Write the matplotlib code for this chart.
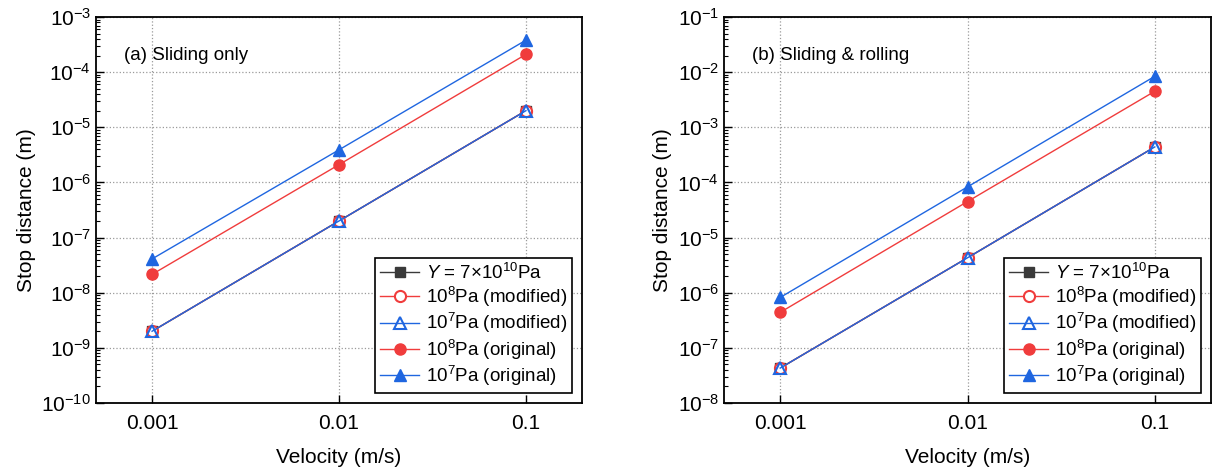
import matplotlib.pyplot as plt
import matplotlib.ticker as mticker
import numpy as np

plt.rcParams['font.family'] = ['Liberation Sans', 'DejaVu Sans']
plt.rcParams['mathtext.fontset'] = 'custom'
plt.rcParams['mathtext.rm'] = 'Liberation Sans'
plt.rcParams['mathtext.it'] = 'Liberation Sans:italic'

velocity = [0.001, 0.01, 0.1]

# (a) sliding only
slide_y7e10 = [2.0e-9, 2.0e-7, 2.0e-5]
slide_1e8_mod = [2.0e-9, 2.0e-7, 2.0e-5]
slide_1e7_mod = [2.0e-9, 2.0e-7, 2.0e-5]
slide_1e8_orig = [2.15e-8, 2.1e-6, 2.1e-4]
slide_1e7_orig = [4.1e-8, 3.9e-6, 3.8e-4]

# (b) sliding & rolling
roll_y7e10 = [4.3e-8, 4.3e-6, 4.4e-4]
roll_1e8_mod = [4.3e-8, 4.3e-6, 4.4e-4]
roll_1e7_mod = [4.3e-8, 4.3e-6, 4.4e-4]
roll_1e8_orig = [4.4e-7, 4.5e-5, 4.5e-3]
roll_1e7_orig = [8.2e-7, 8.3e-5, 8.4e-3]

red = '#f03c3c'
blue = '#1f66e0'
grey = '#3a3a3a'

labels = [r'$Y$ = 7$\times$10$^{10}$Pa', r'10$^8$Pa (modified)', r'10$^7$Pa (modified)',
          r'10$^8$Pa (original)', r'10$^7$Pa (original)']


def panel(ax, series, ylim, note):
    ax.plot(velocity, series[0], color=grey, marker='s', ms=7, lw=1, label=labels[0])
    ax.plot(velocity, series[1], color=red, marker='o', ms=8, mfc='white', mew=1.5, lw=1, label=labels[1])
    ax.plot(velocity, series[2], color=blue, marker='^', ms=9, mfc='none', mew=1.5, lw=1, label=labels[2])
    ax.plot(velocity, series[3], color=red, marker='o', ms=8, lw=1, label=labels[3])
    ax.plot(velocity, series[4], color=blue, marker='^', ms=9, lw=1, label=labels[4])
    ax.set_xscale('log')
    ax.set_yscale('log')
    ax.set_xlim(10 ** -3.3, 10 ** -0.7)
    ax.set_ylim(*ylim)
    ax.set_xticks(velocity)
    ax.xaxis.set_major_formatter(mticker.FixedFormatter(['0.001', '0.01', '0.1']))
    ax.xaxis.set_minor_locator(mticker.NullLocator())
    ax.yaxis.set_major_locator(mticker.LogLocator(base=10, numticks=20))
    ax.yaxis.set_minor_locator(mticker.LogLocator(base=10, subs=np.arange(2, 10), numticks=20))
    ax.yaxis.set_minor_formatter(mticker.NullFormatter())
    ax.tick_params(which='both', direction='in', labelsize=15)
    ax.tick_params(axis='x', pad=8)
    ax.tick_params(which='major', length=6, width=1)
    ax.tick_params(which='minor', length=3, width=0.8)
    ax.grid(True, which='major', linestyle=':', color='#9a9a9a', lw=0.9)
    for s in ax.spines.values():
        s.set_linewidth(1.3)
    ax.set_xlabel('Velocity (m/s)', fontsize=15, labelpad=11)
    ax.set_ylabel('Stop distance (m)', fontsize=15, labelpad=4)
    ax.text(0.057, 0.9, note, transform=ax.transAxes, fontsize=13.5, va='center')
    leg = ax.legend(loc='lower right', fontsize=13.5, fancybox=False, edgecolor='black',
                    framealpha=1, handlelength=2.1, borderaxespad=0.55, labelspacing=0.12,
                    borderpad=0.25, handletextpad=0.35)
    leg.get_frame().set_linewidth(1.2)


fig = plt.figure(figsize=(12.16, 4.72), dpi=100)
ax1 = fig.add_axes([96 / 1216, 1 - 403 / 472, 486 / 1216, 386 / 472])
ax2 = fig.add_axes([724 / 1216, 1 - 403 / 472, 487 / 1216, 386 / 472])

panel(ax1, [slide_y7e10, slide_1e8_mod, slide_1e7_mod, slide_1e8_orig, slide_1e7_orig],
      (1e-10, 1e-3), '(a) Sliding only')
panel(ax2, [roll_y7e10, roll_1e8_mod, roll_1e7_mod, roll_1e8_orig, roll_1e7_orig],
      (1e-8, 1e-1), '(b) Sliding & rolling')

fig.savefig('out.png', dpi=100)
